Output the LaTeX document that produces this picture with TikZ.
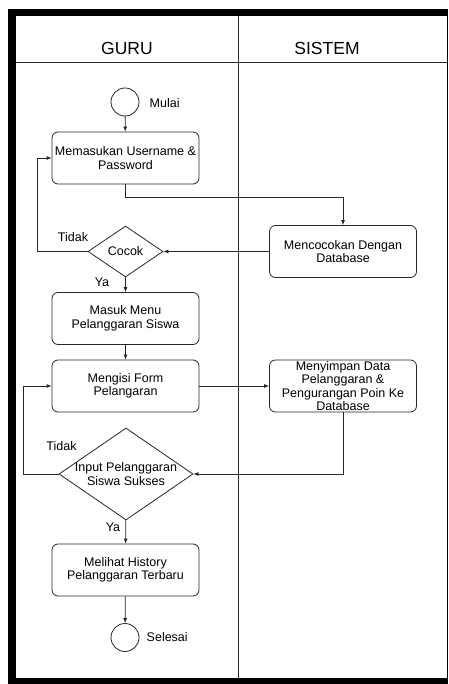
\documentclass[tikz,border=0pt]{standalone}
\usepackage{fontspec}
\setmainfont{Liberation Sans}
\usetikzlibrary{arrows.meta, shapes.geometric}

\begin{document}
\begin{tikzpicture}[x=1pt, y=-1pt, line width=0.8pt,
    font=\fontsize{12.5}{13.5}\selectfont,
    act/.style={draw=black!85, rounded corners=6pt, minimum width=147pt, minimum height=52pt, inner sep=0pt, align=center},
    dec/.style={draw=black!85, diamond, inner sep=0pt, align=center},
    term/.style={draw=black!85, circle, minimum size=28pt, inner sep=0pt},
    lane/.style={font=\fontsize{17.5}{20}\selectfont},
    flow/.style={draw=black!85, -{Latex[length=5pt,width=4pt]}}]
    \useasboundingbox (0,0) rectangle (448,684);
    % frame and swimlanes
    \fill[black] (8,9) rectangle (448,684);
    \fill[white] (16,16) rectangle (447,678);
    \draw[black!85] (16,62) -- (447,62);
    \draw[black!85] (238,16) -- (238,678);
    \node[lane] (guru)   at (127,48) {GURU};
    \node[lane] (sistem) at (327,48) {SISTEM};
    % activities
    \node[term] (start) at (125,102) {};
    \node[anchor=west] (startlbl) at (146,103) {Mulai};
    \node[act] (login)   at (125.5,158) {Memasukan Username \&\\Password};
    \node[act] (check)   at (343,251.5) {Mencocokan Dengan\\Database};
    \node[dec, minimum width=75pt, minimum height=51pt] (cocok) at (125.5,251.5) {Cocok};
    \node[act] (menu)    at (125.5,318.5) {Masuk Menu\\Pelanggaran Siswa};
    \node[act] (form)    at (125.5,386) {Mengisi Form\\Pelangaran};
    \node[act] (simpan)  at (343,386) {Menyimpan Data\\Pelanggaran \&\\Pengurangan Poin Ke\\Database};
    \node[dec, aspect=1.46, inner sep=-3pt, minimum width=134pt, minimum height=92pt] (sukses) at (126,474) {Input Pelanggaran\\Siswa Sukses};
    \node[act] (history) at (125.5,570) {Melihat History\\Pelanggaran Terbaru};
    \node[term] (finish) at (125,637.5) {};
    \node[anchor=west] (finishlbl) at (143,637) {Selesai};
    % guard labels
    \node (no1)  at (73,237.5) {Tidak};
    \node (yes1) at (102,282)  {Ya};
    \node (no2)  at (61.5,446) {Tidak};
    \node (yes2) at (113,527.5) {Ya};
    % flows
    \draw[flow] (start) -- (login);
    \draw[flow] (login.south) -- ++(0,13) -| (check.north);
    \draw[flow] (check) -- (cocok);
    \draw[flow] (cocok.west) -- ++(-50,0) |- (login.west);
    \draw[flow] (cocok) -- (menu);
    \draw[flow] (menu) -- (form);
    \draw[flow] (form) -- (simpan);
    \draw[flow] (simpan.south) |- (sukses.east);
    \draw[flow] (sukses.west) -- ++(-35,0) |- (form.west);
    \draw[flow] (sukses) -- (history);
    \draw[flow] (history) -- (finish);
\end{tikzpicture}
\end{document}
